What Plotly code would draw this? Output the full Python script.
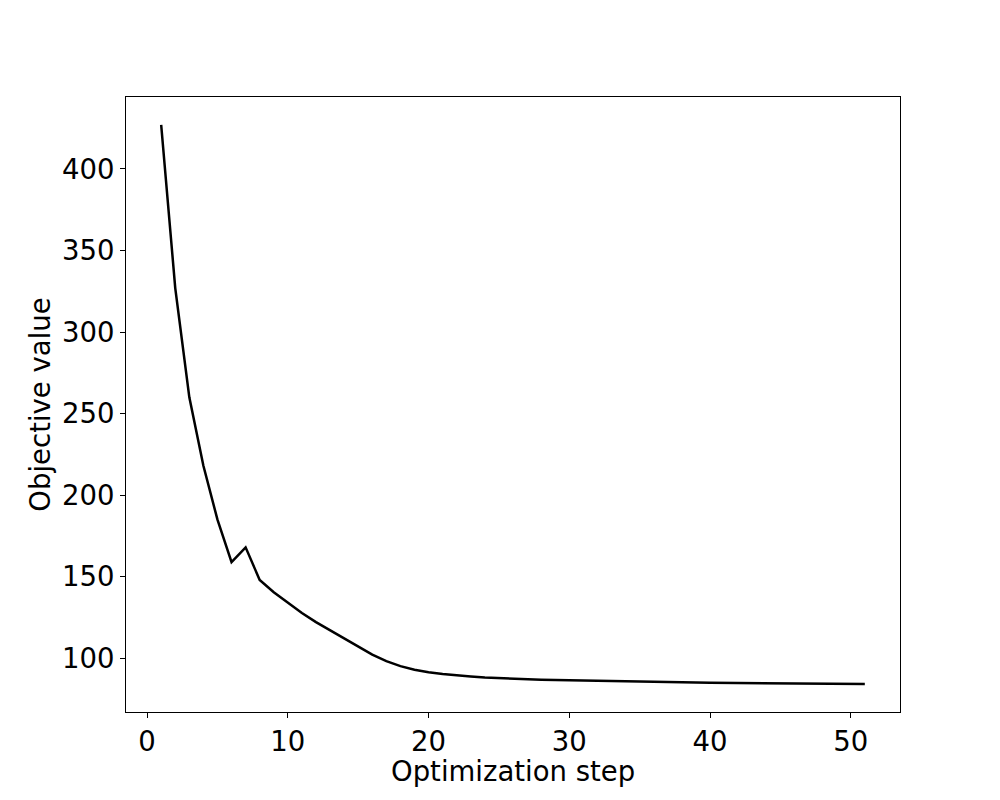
import plotly.graph_objects as go

steps = list(range(1, 52))
objective = [427, 327, 260, 218, 185, 159, 168, 148, 140.5, 134,
             127.8, 122.2, 117.2, 112, 106.7, 102.2, 98.2, 95.2, 93, 91.4,
             90.3, 89.4, 88.8, 88.2, 87.8, 87.4, 87.1, 86.9, 86.7, 86.5,
             86.3, 86.1, 85.9, 85.7, 85.5, 85.4, 85.3, 85.2, 85.1, 85.0,
             84.9, 84.8, 84.7, 84.6, 84.6, 84.5, 84.5, 84.4, 84.4, 84.3, 84.2]

x_ticks = [0, 10, 20, 30, 40, 50]
y_ticks = [100, 150, 200, 250, 300, 350, 400]
x_title = "Optimization step"
y_title = "Objective value"

fig = go.Figure()
fig.add_trace(go.Scatter(x=steps, y=objective, mode="lines",
                         line=dict(color="black", width=2.5), showlegend=False))

font = dict(family="DejaVu Sans", size=27.5, color="black")
xmin, xmax = min(steps), max(steps)
ymin, ymax = min(objective), max(objective)
xm = (xmax - xmin) * 0.05
ym = (ymax - ymin) * 0.05

axis_common = dict(showgrid=False, zeroline=False, showline=True, linecolor="black",
                   linewidth=1, mirror=True, ticks="outside", ticklen=5, tickwidth=1,
                   tickcolor="black", tickfont=font)

fig.update_xaxes(range=[xmin - xm, xmax + xm], tickvals=x_ticks, **axis_common)
fig.update_yaxes(range=[ymin - ym, ymax + ym], tickvals=y_ticks,
                 title=dict(text=y_title, font=font, standoff=3), **axis_common)

fig.add_annotation(text=x_title, xref="paper", yref="paper", x=0.5, y=-0.0958,
                   xanchor="center", yanchor="middle", showarrow=False, font=font,
                   borderpad=0)

fig.update_layout(width=1000, height=800, plot_bgcolor="white", paper_bgcolor="white",
                  margin=dict(l=118, r=108, t=89, b=96), font=font)

fig.write_html("out.html")
